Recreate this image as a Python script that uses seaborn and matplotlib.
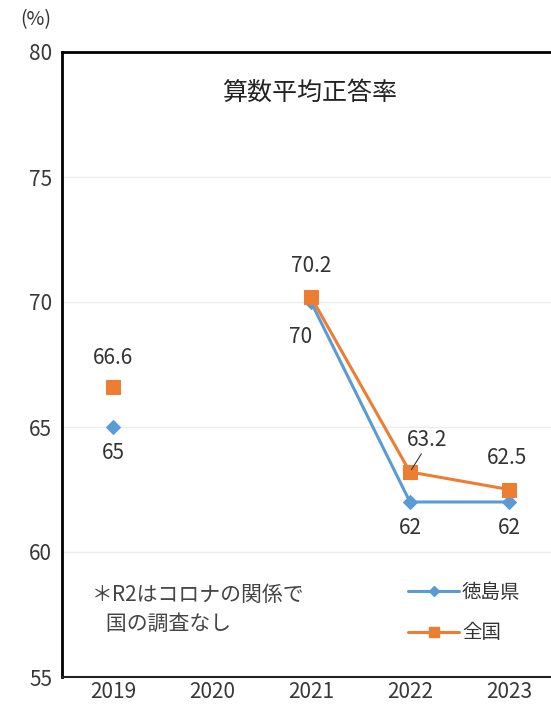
import pandas as pd
import numpy as np
import matplotlib
matplotlib.use("Agg")
import matplotlib.pyplot as plt
import seaborn as sns
from matplotlib.lines import Line2D

# data
years = [2019, 2020, 2021, 2022, 2023]
tokushima = [65, np.nan, 70, 62, 62]
national = [66.6, np.nan, 70.2, 63.2, 62.5]
series_names = ["徳島県", "全国"]
title = "算数平均正答率"
note = "＊R2はコロナの関係で\n   国の調査なし"

sns.set_theme(style="white")
plt.rcParams["font.family"] = ["Noto Sans CJK JP", "DejaVu Sans"]

rows = []
for name, vals in zip(series_names, [tokushima, national]):
    for yr, v in zip(years, vals):
        if pd.notna(v):
            # 2020 missing -> split into separate line segments
            rows.append({"year": yr, "value": v, "series": name, "seg": 0 if yr < 2020 else 1})
df = pd.DataFrame(rows)

colors = {"徳島県": "#5b9bd5", "全国": "#ed7d31"}
markers = {"徳島県": "D", "全国": "s"}

fig = plt.figure(figsize=(5.51, 7.05), dpi=100)
ax = fig.add_axes([62 / 551, 28 / 705, 1 - 62 / 551 + 0.01, 625 / 705])

for name in series_names:
    sub = df[df["series"] == name]
    sns.lineplot(data=sub, x="year", y="value", units="seg", estimator=None,
                 color=colors[name], marker=markers[name],
                 markersize=7.5 if name == "徳島県" else 10.5,
                 markeredgecolor=colors[name], linewidth=2.2, ax=ax,
                 zorder=3 if name == "全国" else 2, legend=False)

ax.set_xlim(2018.485, 2023.48)
ax.set_ylim(55, 80)
ax.set_yticks([55, 60, 65, 70, 75, 80])
ax.set_xticks(years)
ax.set_xticklabels([str(y) for y in years])
ax.set_xlabel("")
ax.set_ylabel("")
ax.yaxis.grid(True, color="#ececec", linewidth=1)
ax.tick_params(axis="y", labelsize=15, colors="#383838", length=0, pad=7)
ax.tick_params(axis="x", labelsize=15, colors="#383838", length=0, pad=3)

for side in ["left", "top"]:
    ax.spines[side].set_color("black")
    ax.spines[side].set_linewidth(2)
ax.spines["bottom"].set_color("#222222")
ax.spines["bottom"].set_linewidth(1.5)
ax.spines["right"].set_visible(False)

# value labels
lab = dict(fontsize=15, color="#333333", ha="center", va="center")
ax.text(2019, 67.75, "66.6", **lab)
ax.text(2019, 63.95, "65", **lab)
ax.text(2021, 71.45, "70.2", **lab)
ax.text(2020.89, 68.6, "70", **lab)
ax.text(2022.98, 63.75, "62.5", **lab)
ax.text(2022, 60.95, "62", **lab)
ax.text(2023, 60.95, "62", **lab)
ax.annotate("63.2", xy=(2022.0, 63.2), xytext=(2022.17, 64.5), fontsize=15,
            color="#333333", ha="center", va="center", zorder=5,
            arrowprops=dict(arrowstyle="-", color="#333333", lw=0.8,
                            relpos=(0.45, 0.1), shrinkA=0, shrinkB=2))

ax.text(0.5, 0.935, title, transform=ax.transAxes, fontsize=18,
        color="#222222", ha="center", va="center")
ax.text(2018.79, 57.7, note, fontsize=15, color="#444444", ha="left",
        va="center", linespacing=1.45)
fig.text(20 / 551, 1 - 20 / 705, "(%)", fontsize=14, color="#333333",
         ha="left", va="center")

# one legend entry per series (units split each line in two)
handles = [Line2D([], [], color=colors[n], marker=markers[n], lw=2.2,
                  markersize=5 if n == "徳島県" else 7, markeredgecolor=colors[n])
           for n in series_names]
ax.legend(handles, series_names, loc="center left",
          bbox_to_anchor=(0.665, 0.103), frameon=False, fontsize=14,
          handlelength=2.6, labelspacing=1.0, handletextpad=0.15,
          labelcolor="#333333")

fig.savefig("out.png", dpi=100)
